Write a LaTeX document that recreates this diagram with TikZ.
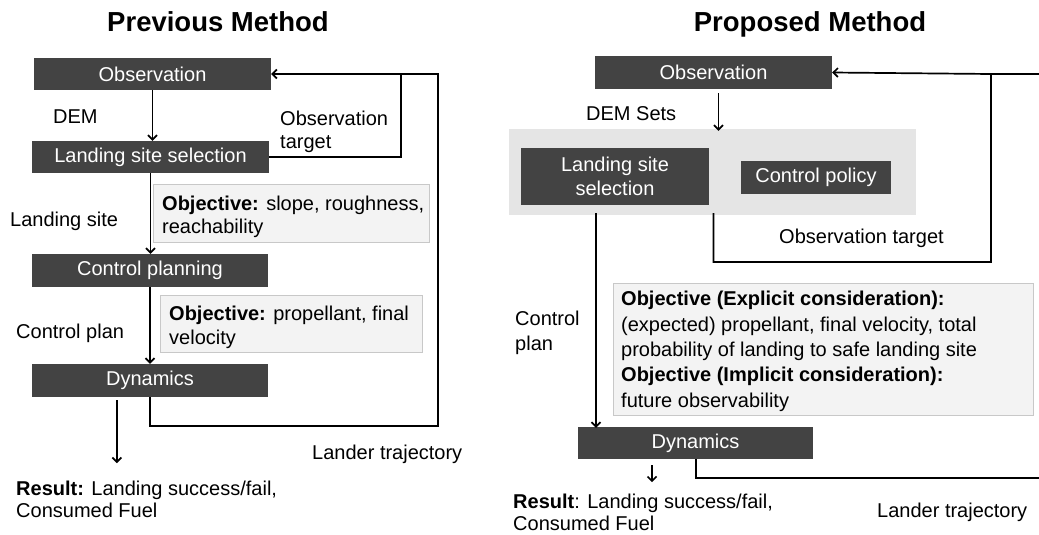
\documentclass[tikz,border=0pt]{standalone}
\usepackage{fontspec}
\setmainfont{Liberation Sans}
\usetikzlibrary{arrows.meta,calc}
\definecolor{boxdark}{RGB}{67,67,67}
\definecolor{objfill}{RGB}{243,243,243}
\definecolor{objline}{RGB}{200,200,200}
\definecolor{grpfill}{RGB}{229,229,229}
\tikzset{
  darkbox/.style={fill=boxdark, text=white, inner sep=0pt, align=center, font=\fontsize{20}{24}\selectfont},
  objbox/.style={fill=objfill, draw=objline, line width=0.8pt, inner sep=0pt},
  grpbox/.style={fill=grpfill, inner sep=0pt},
  lbl/.style={anchor=base west, inner sep=0pt, align=left},
  ttl/.style={anchor=base, inner sep=0pt, font=\fontsize{27.5}{30}\selectfont\bfseries},
  arr/.style={-{Straight Barb[length=4.5pt,width=9pt]}},
  conn/.style={line width=1.7pt},
}
\begin{document}
\begin{tikzpicture}[x=1pt,y=-1pt,font=\fontsize{20}{23}\selectfont]
\fill[white] (0,0) rectangle (1039,535);
\useasboundingbox (0,0) rectangle (1039,535);
\clip (0,0) rectangle (1039,535);

% titles
\node[ttl] (tL) at (218,32) {Previous Method};
\node[ttl] (tR) at (810,32) {Proposed Method};

% ---------- left panel ----------
\node[objbox, minimum width=276pt, minimum height=58pt] (objL1) at (291,213) {};
\node[objbox, minimum width=262pt, minimum height=57pt] (objL2) at (291,323.5) {};
\node[darkbox, minimum width=237pt, minimum height=32pt] (obsL) at (152.5,74) {Observation};
\node[darkbox, minimum width=237pt, minimum height=32pt] (lssL) at (150.5,157) {Landing site selection};
\node[darkbox, minimum width=236pt, minimum height=33pt] (cpL) at (150,270.5) {Control planning};
\node[darkbox, minimum width=236pt, minimum height=33pt] (dynL) at (150,380.5) {Dynamics};

\node[lbl] (demL) at (53,123) {DEM};
\node[lbl] (otL) at (280,148) {Observation\\target};
\node[lbl] (lsL) at (10,226) {Landing site};
\node[lbl] (cplL) at (16,338) {Control plan};
\node[lbl] (ltL) at (312,459) {Lander trajectory};
\node[lbl, font=\fontsize{20}{22}\selectfont] (resL) at (16,517) {\textbf{Result:} Landing success/fail,\\Consumed Fuel};
\node[lbl] (objL1t) at (162,233) {\textbf{Objective:} slope, roughness,\\reachability};
\node[lbl, font=\fontsize{20}{24}\selectfont] (objL2t) at (169,344) {\textbf{Objective:} propellant, final\\velocity};

\coordinate (fbL) at (401,74);
\coordinate (loopLt) at (438,74);
\coordinate (loopLb) at (438,426);

\draw[conn,arr] (obsL.south) -- (obsL.south |- lssL.north);
\draw[conn,arr] (lssL.south) -- (lssL.south |- cpL.north);
\draw[conn,arr] (cpL.south) -- (cpL.south |- dynL.north);
\draw[conn,arr] (lssL.east) -| (fbL) -- (obsL.east);
\draw[conn] (dynL.south) |- (loopLb) -- (loopLt) -- (fbL);
\draw[conn,arr] ([xshift=85pt,yshift=-3pt]dynL.south west) -- ([xshift=85pt,yshift=-66pt]dynL.south west);

% ---------- right panel ----------
\node[grpbox, minimum width=407pt, minimum height=86pt] (grp) at (712.5,172) {};
\node[objbox, minimum width=420pt, minimum height=132pt] (objR) at (823,349) {};
\node[darkbox, minimum width=237pt, minimum height=33pt] (obsR) at (713.5,72.5) {Observation};
\node[darkbox, minimum width=188pt, minimum height=57pt] (lssR) at (615,176.5) {Landing site\\selection};
\node[darkbox, minimum width=150pt, minimum height=33pt] (cpolR) at (816,177.5) {Control policy};
\node[darkbox, minimum width=235pt, minimum height=32pt] (dynR) at (695.5,443) {Dynamics};

\node[lbl] (demR) at (586,120) {DEM Sets};
\node[lbl] (otR) at (779,243) {Observation target};
\node[lbl, font=\fontsize{20}{25}\selectfont] (cplR) at (515,350) {Control\\plan};
\node[lbl, font=\fontsize{20}{25.3}\selectfont] (objRt) at (621,407) {\textbf{Objective (Explicit consideration):}\\(expected) propellant, final velocity, total\\probability of landing to safe landing site\\\textbf{Objective (Implicit consideration):}\\future observability};
\node[lbl, font=\fontsize{20}{22}\selectfont] (resR) at (513,530) {\textbf{Result}: Landing success/fail,\\Consumed Fuel};
\node[lbl] (ltR) at (877,517) {Lander trajectory};

\coordinate (fbR) at (991,74);
\coordinate (edgeT) at (1050,74);
\coordinate (edgeB) at (1050,478);
\coordinate (otDown) at (713,262);

\draw[conn,arr] ([xshift=5pt,yshift=-4pt]obsR.south) -- ([xshift=5pt,yshift=-2pt]obsR.south |- grp.north);
\draw[conn,arr] ([xshift=0.5pt,yshift=2pt]grp.south -| otDown) |- (fbR |- otDown) -- (fbR) -- (obsR.east);
\draw[conn] (edgeT) -- (fbR);
\draw[conn,arr] ([yshift=2pt]grp.south -| 596,0) -- ([yshift=-1pt]dynR.north -| 596,0);
\draw[conn] ([xshift=0.5pt]dynR.south) |- (edgeB) -- (edgeT);
\draw[conn,arr] ([xshift=-43.5pt,yshift=-6pt]dynR.south) -- ([xshift=-43.5pt,yshift=-23pt]dynR.south);
\end{tikzpicture}
\end{document}
